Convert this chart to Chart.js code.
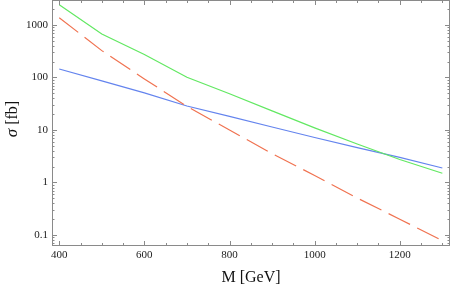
<!DOCTYPE html>
<html>
<head>
<meta charset="utf-8">
<script src="https://cdn.jsdelivr.net/npm/chart.js@4"></script>
<style>
  html, body { margin: 0; padding: 0; background: #fff; }
</style>
</head>
<body>
<canvas id="c" width="454" height="287"></canvas>
<script>
// masses (GeV) and cross sections (fb)
const masses = [400, 500, 600, 700, 800, 900, 1000, 1100, 1200, 1300];
const sigmaGreen = [2440, 674, 274, 101, 49, 23.1, 11.0, 5.4, 2.74, 1.50];
const sigmaRed = [1377, 325, 94, 28.2, 10.0, 3.54, 1.36, 0.505, 0.20, 0.078];
const sigmaBlue = [145, 86, 51, 28.7, 18.2, 11.4, 7.2, 4.6, 3.0, 1.89];
const xTicks = [400, 600, 800, 1000, 1200];
const yTicks = [0.1, 1, 10, 100, 1000];

const serif = "'Liberation Serif', 'DejaVu Serif', serif";
const frameColor = '#8a8a8a';

const pts = ys => masses.map((m, i) => ({ x: m, y: ys[i] }));

// frame + Mathematica-style ticks on all four sides
const framePlugin = {
  id: 'frame',
  afterDraw(chart) {
    const { ctx, chartArea: a, scales: { x, y } } = chart;
    ctx.save();
    ctx.strokeStyle = frameColor;
    ctx.lineWidth = 1;
    ctx.strokeRect(a.left + 0.5, a.top + 0.5, a.right - a.left - 1, a.bottom - a.top - 1);

    ctx.beginPath();
    // x ticks every 50, major every 200
    for (let v = 400; v <= 1300; v += 50) {
      const px = Math.round(x.getPixelForValue(v)) + 0.5;
      const len = v % 200 === 0 ? 5 : 3;
      ctx.moveTo(px, a.bottom); ctx.lineTo(px, a.bottom - len);
      ctx.moveTo(px, a.top); ctx.lineTo(px, a.top + len);
    }
    // y ticks: decades major, 2..9 minor
    for (let d = -2; d <= 3; d++) {
      for (let k = 1; k <= 9; k++) {
        const v = k * Math.pow(10, d);
        if (v < y.min || v > y.max) continue;
        const py = Math.round(y.getPixelForValue(v)) + 0.5;
        const len = k === 1 ? 5 : 2.5;
        ctx.moveTo(a.left, py); ctx.lineTo(a.left + len, py);
        ctx.moveTo(a.right, py); ctx.lineTo(a.right - len, py);
      }
    }
    ctx.stroke();

    // y axis title with italic sigma
    const cy = (a.top + a.bottom) / 2 - 4;
    ctx.translate(13, cy);
    ctx.rotate(-Math.PI / 2);
    ctx.fillStyle = '#111';
    ctx.textBaseline = 'middle';
    const f1 = "italic 17px " + serif, f2 = "16px " + serif;
    ctx.font = f1; const w1 = ctx.measureText('σ').width;
    ctx.font = f2; const w2 = ctx.measureText(' [fb]').width;
    let sx = -(w1 + w2) / 2;
    ctx.font = f1; ctx.fillText('σ', sx, 0);
    ctx.font = f2; ctx.fillText(' [fb]', sx + w1, 0);
    ctx.restore();
  }
};

new Chart(document.getElementById('c'), {
  type: 'line',
  data: {
    datasets: [
      { data: pts(sigmaGreen), borderColor: '#62e862', borderWidth: 1.2 },
      { data: pts(sigmaRed), borderColor: '#f07250', borderWidth: 1.2, borderDash: [24, 8] },
      { data: pts(sigmaBlue), borderColor: '#6484ee', borderWidth: 1.2 }
    ]
  },
  options: {
    responsive: false,
    animation: false,
    devicePixelRatio: 1,
    layout: { padding: { top: 0, right: 4, left: 0, bottom: 0 } },
    elements: { point: { radius: 0 }, line: { tension: 0 } },
    plugins: { legend: { display: false }, tooltip: { enabled: false } },
    scales: {
      x: {
        type: 'linear',
        min: 383,
        max: 1318,
        afterBuildTicks: s => { s.ticks = xTicks.map(v => ({ value: v })); },
        afterFit: s => { s.height = 41; s.paddingLeft = 0; s.paddingRight = 0; },
        grid: { display: false, drawTicks: false },
        border: { display: false },
        ticks: { font: { family: serif, size: 11 }, color: '#222', padding: 3, maxRotation: 0, autoSkip: false, callback: v => String(v) },
        title: { display: true, text: 'M [GeV]', font: { family: serif, size: 16 }, color: '#111', padding: { top: 0, bottom: 0 } }
      },
      y: {
        type: 'logarithmic',
        min: 0.0617,
        max: 2994,
        afterBuildTicks: s => { s.ticks = yTicks.map(v => ({ value: v })); },
        afterFit: s => { s.width = 52; s.paddingTop = 0; s.paddingBottom = 0; },
        grid: { display: false, drawTicks: false },
        border: { display: false },
        ticks: { font: { family: serif, size: 11 }, color: '#222', padding: 4, autoSkip: false, callback: v => String(v) }
      }
    }
  },
  plugins: [framePlugin]
});
</script>
</body>
</html>
